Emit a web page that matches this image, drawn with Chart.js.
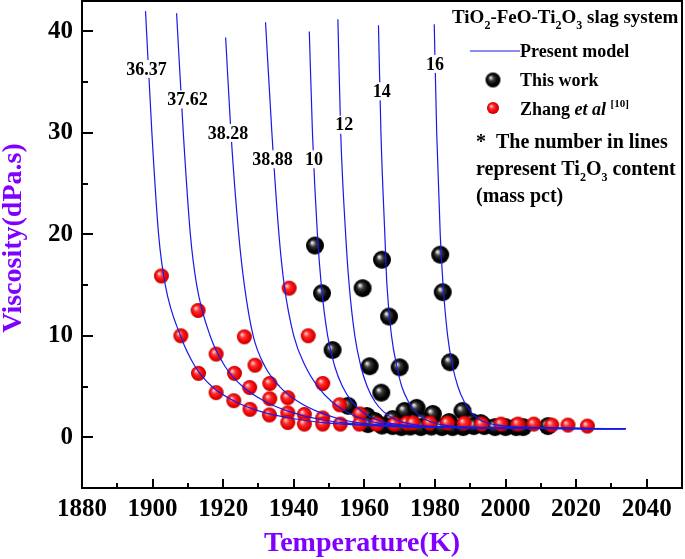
<!DOCTYPE html>
<html>
<head>
<meta charset="utf-8">
<script src="https://cdn.jsdelivr.net/npm/chart.js@4.4.1/dist/chart.umd.min.js"></script>
<style>
  html, body { margin: 0; padding: 0; background: #fff; }
  #wrap { width: 685px; height: 559px; }
</style>
</head>
<body>
<div id="wrap"><canvas id="viscChart" width="685" height="559"></canvas></div>
<script>
// tick labels
const xTickLabels = [1880, 1900, 1920, 1940, 1960, 1980, 2000, 2020, 2040];
const yTickLabels = [0, 10, 20, 30, 40];

// model curves (present model), one per Ti2O3 content
const curveNames = ['36.37', '37.62', '38.28', '38.88', '10', '12', '14', '16'];
const curveT = [
	[1898.0, 1899.8, 1901.7, 1903.6, 1907.9, 1912.0, 1916.8, 1923.5, 1931.0, 1940.5, 1950.0, 1965.0, 1985.0, 2010.0, 2034.0],
	[1906.8, 1908.7, 1910.7, 1912.5, 1916.3, 1920.5, 1925.5, 1932.0, 1939.0, 1947.0, 1955.0, 1968.0, 1987.0, 2010.0, 2034.0],
	[1920.7, 1922.2, 1924.4, 1926.0, 1928.5, 1931.8, 1936.0, 1941.3, 1947.0, 1953.0, 1959.0, 1970.0, 1988.0, 2010.0, 2034.0],
	[1932.0, 1933.8, 1935.8, 1937.3, 1940.0, 1943.3, 1946.8, 1950.8, 1955.0, 1959.5, 1964.0, 1973.0, 1990.0, 2010.0, 2034.0],
	[1944.4, 1945.3, 1946.7, 1947.8, 1949.6, 1951.6, 1953.8, 1956.5, 1959.5, 1963.0, 1967.0, 1975.0, 1990.0, 2010.0, 2034.0],
	[1952.5, 1953.3, 1954.7, 1955.7, 1957.3, 1959.0, 1960.8, 1963.0, 1965.5, 1968.5, 1972.0, 1978.0, 1992.0, 2012.0, 2034.0],
	[1964.0, 1964.7, 1965.8, 1966.4, 1967.7, 1969.2, 1970.6, 1972.5, 1974.5, 1977.0, 1980.0, 1985.0, 1995.0, 2012.0, 2034.0],
	[1979.8, 1980.5, 1981.5, 1982.3, 1983.6, 1985.0, 1986.5, 1988.3, 1990.2, 1992.3, 1995.0, 2000.0, 2010.0, 2020.0, 2034.0]
];
const curveV = [
	[42.0, 30, 20, 15, 10, 7, 5, 3.5, 2.5, 1.8, 1.4, 1.1, 0.95, 0.88, 0.85],
	[41.8, 30, 20, 15, 10, 7, 5, 3.5, 2.5, 1.8, 1.4, 1.1, 0.95, 0.88, 0.85],
	[39.4, 30, 20, 15, 10, 7, 5, 3.5, 2.5, 1.8, 1.4, 1.1, 0.95, 0.88, 0.85],
	[40.9, 30, 20, 15, 10, 7, 5, 3.5, 2.5, 1.8, 1.4, 1.1, 0.95, 0.88, 0.85],
	[40.0, 30, 20, 15, 10, 7, 5, 3.5, 2.5, 1.8, 1.4, 1.1, 0.95, 0.88, 0.85],
	[41.2, 30, 20, 15, 10, 7, 5, 3.5, 2.5, 1.8, 1.4, 1.1, 0.95, 0.88, 0.85],
	[40.6, 30, 20, 15, 10, 7, 5, 3.5, 2.5, 1.8, 1.4, 1.1, 0.95, 0.88, 0.85],
	[40.7, 30, 20, 15, 10, 7, 5, 3.5, 2.5, 1.8, 1.4, 1.1, 0.95, 0.88, 0.85]
];
// where each curve's number sits on its line (T, viscosity)
const curveLabelT = [1898.3, 1909.9, 1921.4, 1934.0, 1945.7, 1954.3, 1964.9, 1980.0];
const curveLabelV = [36.3, 33.3, 30.0, 27.4, 27.4, 30.8, 34.1, 36.8];

// Zhang et al [10]
const zhangT = [1902.5, 1908.0, 1912.9, 1913.0, 1918.0, 1918.0, 1923.0, 1923.2, 1926.0, 1927.5, 1927.6, 1929.0,
	1933.2, 1933.2, 1933.1, 1938.3, 1938.3, 1938.3, 1938.7, 1943.0, 1943.0, 1944.1, 1948.2, 1948.2, 1948.2,
	1953.0, 1953.2, 1958.7, 1958.6, 1963.5, 1968.5, 1972.0, 1973.8, 1978.5, 1983.5, 1988.3, 1993.2, 1998.7,
	2003.5, 2008.0, 2013.1, 2017.7, 2023.2];
const zhangV = [15.9, 10.0, 12.5, 6.3, 8.2, 4.4, 3.6, 6.3, 9.9, 4.9, 2.75, 7.1,
	5.3, 3.8, 2.2, 3.9, 2.4, 1.45, 14.7, 2.25, 1.3, 10.0, 5.3, 1.9, 1.3,
	3.2, 1.3, 2.3, 1.3, 1.3, 1.3, 1.4, 1.4, 1.4, 1.4, 1.4, 1.3, 1.3,
	1.3, 1.3, 1.2, 1.2, 1.1];

// This work
const thisT = [1946.0, 1948.0, 1951.0, 1955.4, 1959.5, 1961.5, 1964.8, 1960.7, 1963.0, 1965.0, 1967.0, 1970.0,
	1971.4, 1974.8, 1979.4, 1981.5, 1982.2, 1984.3, 1987.8, 1968.0, 1976.5, 1984.0, 1990.5, 1993.0,
	1961.0, 1965.0, 1968.0, 1970.5, 1973.0, 1976.0, 1979.0, 1982.0, 1985.0, 1988.0, 1991.0, 1994.0,
	1997.0, 2000.0, 2003.0, 2005.0, 2012.0];
const thisV = [18.9, 14.2, 8.6, 3.1, 14.7, 7.0, 4.4, 2.1, 1.6, 17.5, 11.9, 6.9,
	2.6, 2.9, 2.3, 18.0, 14.3, 7.4, 2.6, 1.8, 1.6, 1.5, 1.5, 1.4,
	1.3, 1.15, 1.1, 1.0, 1.05, 1.0, 1.05, 1.0, 1.0, 1.0, 1.1, 1.1,
	1.0, 1.0, 1.0, 1.0, 1.1];

const SERIF = '"Liberation Serif", "Times New Roman", serif';
const BLUE = '#1a1ae8';
const PURPLE = '#8000ff';

// shaded ball markers
function makeBall(r, stops) {
	const c = document.createElement('canvas');
	const s = Math.ceil(r * 2) + 2;
	c.width = s; c.height = s;
	const g = c.getContext('2d');
	const m = s / 2;
	const grad = g.createRadialGradient(m - r * 0.35, m - r * 0.35, 0, m, m, r);
	stops.forEach(st => grad.addColorStop(st[0], st[1]));
	g.fillStyle = grad;
	g.beginPath();
	g.arc(m, m, r, 0, Math.PI * 2);
	g.fill();
	return c;
}
const blackStops = [[0, '#ffffff'], [0.12, '#c8c8c8'], [0.35, '#3a3a3a'], [0.7, '#050505'], [1, '#000000']];
const redStops = [[0, '#ffffff'], [0.15, '#ff9a9a'], [0.4, '#ff2a2a'], [0.8, '#e80000'], [1, '#b80000']];
const blackBall = makeBall(9, blackStops);
const redBall = makeBall(7.5, redStops);
const blackBallSmall = makeBall(7.5, blackStops);
const redBallSmall = makeBall(6, redStops);

function toPoints(xs, ys) {
	return xs.map((x, i) => ({ x: x, y: ys[i] }));
}

const datasets = curveT.map((ts, i) => ({
	label: curveNames[i],
	data: toPoints(ts, curveV[i]),
	showLine: true,
	borderColor: BLUE,
	borderWidth: 1.2,
	pointRadius: 0,
	cubicInterpolationMode: 'monotone',
	fill: false,
	order: 0
}));
datasets.push({
	label: 'Zhang et al',
	data: toPoints(zhangT, zhangV),
	pointStyle: redBall,
	pointRadius: 7.5,
	order: 1
});
datasets.push({
	label: 'This work',
	data: toPoints(thisT, thisV),
	pointStyle: blackBall,
	pointRadius: 9,
	order: 2
});

// draw text made of pieces (subscripts, superscripts, italics)
function richText(ctx, x, y, parts, size) {
	let cx = x;
	ctx.textBaseline = 'alphabetic';
	ctx.textAlign = 'left';
	parts.forEach(p => {
		const small = p.sub || p.sup;
		const s = small ? Math.round(size * 0.62) : size;
		ctx.font = (p.italic ? 'italic ' : '') + 'bold ' + s + 'px ' + SERIF;
		const dy = p.sub ? size * 0.3 : (p.sup ? -size * 0.42 : 0);
		ctx.fillText(p.t, cx, y + dy);
		cx += ctx.measureText(p.t).width;
	});
}

const decorPlugin = {
	id: 'decor',
	afterDatasetsDraw(chart) {
		const ctx = chart.ctx;
		const xs = chart.scales.x, ys = chart.scales.y;
		// numbers on the curves
		ctx.save();
		ctx.font = 'bold 18px ' + SERIF;
		ctx.textAlign = 'center';
		ctx.textBaseline = 'middle';
		curveNames.forEach((name, i) => {
			const px = xs.getPixelForValue(curveLabelT[i]);
			const py = ys.getPixelForValue(curveLabelV[i]);
			const w = ctx.measureText(name).width;
			ctx.fillStyle = '#fff';
			ctx.fillRect(px - w / 2 - 2, py - 9, w + 4, 18);
			ctx.fillStyle = '#000';
			ctx.fillText(name, px, py + 1);
		});
		ctx.restore();
	},
	afterDraw(chart) {
		const ctx = chart.ctx;
		const a = chart.chartArea;
		const xs = chart.scales.x, ys = chart.scales.y;
		ctx.save();
		// frame
		ctx.strokeStyle = '#000';
		ctx.lineWidth = 2;
		ctx.strokeRect(a.left, a.top, a.right - a.left, a.bottom - a.top);
		// inward ticks
		ctx.beginPath();
		for (let v = 1880; v <= 2050; v += 10) {
			const px = Math.round(xs.getPixelForValue(v));
			const len = (v % 20 === 0) ? 9 : 5;
			if (px <= a.left + 1 || px >= a.right - 1) continue;
			ctx.moveTo(px, a.bottom);
			ctx.lineTo(px, a.bottom - len);
		}
		for (let v = 0; v <= 40; v += 5) {
			const py = Math.round(ys.getPixelForValue(v));
			const len = (v % 10 === 0) ? 11 : 6;
			ctx.moveTo(a.left, py);
			ctx.lineTo(a.left + len, py);
		}
		ctx.stroke();

		// axis titles
		ctx.fillStyle = PURPLE;
		ctx.font = 'bold 28px ' + SERIF;
		ctx.textAlign = 'center';
		ctx.textBaseline = 'middle';
		ctx.fillText('Temperature(K)', 362, 544);
		ctx.save();
		ctx.translate(14, 238);
		ctx.rotate(-Math.PI / 2);
		ctx.fillText('Viscosity(dPa.s)', 0, 0);
		ctx.restore();

		// legend box
		ctx.fillStyle = '#000';
		richText(ctx, 452, 23, [{ t: 'TiO' }, { t: '2', sub: true }, { t: '-FeO-Ti' }, { t: '2', sub: true },
			{ t: 'O' }, { t: '3', sub: true }, { t: ' slag system' }], 19);
		ctx.strokeStyle = BLUE;
		ctx.lineWidth = 1.2;
		ctx.beginPath();
		ctx.moveTo(470, 51);
		ctx.lineTo(520, 51);
		ctx.stroke();
		richText(ctx, 520, 57, [{ t: 'Present model' }], 18);
		ctx.drawImage(blackBallSmall, 493 - blackBallSmall.width / 2, 80 - blackBallSmall.height / 2);
		richText(ctx, 520, 86, [{ t: 'This work' }], 18);
		ctx.drawImage(redBallSmall, 493 - redBallSmall.width / 2, 108 - redBallSmall.height / 2);
		richText(ctx, 520, 115, [{ t: 'Zhang ' }, { t: 'et al', italic: true }, { t: ' ' }, { t: '[10]', sup: true }], 18);
		richText(ctx, 476, 148, [{ t: '*  The number in lines' }], 20);
		richText(ctx, 476, 175, [{ t: 'represent Ti' }, { t: '2', sub: true }, { t: 'O' }, { t: '3', sub: true }, { t: ' content' }], 20);
		richText(ctx, 476, 202, [{ t: '(mass pct)' }], 20);
		ctx.restore();
	}
};

const tickFont = { family: SERIF, size: 25, weight: 'bold' };

function noPadding(s) {
	s.paddingTop = 0; s.paddingBottom = 0; s.paddingLeft = 0; s.paddingRight = 0;
}

new Chart(document.getElementById('viscChart'), {
	type: 'scatter',
	data: { datasets: datasets },
	options: {
		responsive: false,
		animation: false,
		layout: { autoPadding: false, padding: { top: 1, right: 3, left: 0, bottom: 0 } },
		plugins: {
			legend: { display: false },
			tooltip: { enabled: false }
		},
		scales: {
			x: {
				type: 'linear',
				min: 1880,
				max: 2050,
				afterBuildTicks: s => { s.ticks = xTickLabels.map(v => ({ value: v })); },
				afterFit: s => { s.height = 71; noPadding(s); },
				grid: { display: false, drawTicks: false },
				border: { display: false },
				ticks: { font: tickFont, color: '#000', padding: 7, maxRotation: 0, autoSkip: false, callback: v => String(v) }
			},
			y: {
				type: 'linear',
				min: -5,
				max: 43,
				afterBuildTicks: s => { s.ticks = yTickLabels.map(v => ({ value: v })); },
				afterFit: s => { s.width = 82; noPadding(s); },
				grid: { display: false, drawTicks: false },
				border: { display: false },
				ticks: { font: tickFont, color: '#000', padding: 9, callback: v => String(v) }
			}
		}
	},
	plugins: [decorPlugin]
});
</script>
</body>
</html>
